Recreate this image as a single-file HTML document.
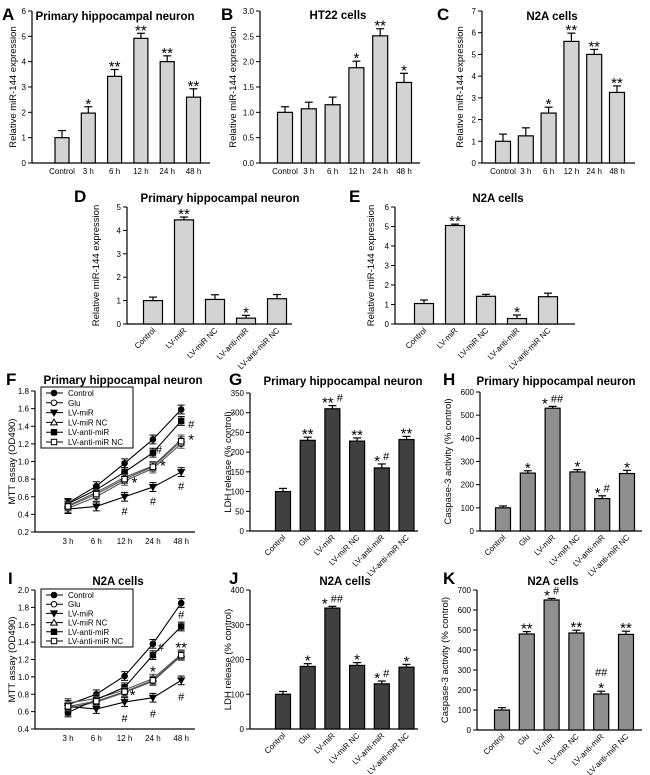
<!DOCTYPE html>
<html><head><meta charset="utf-8"><style>
html,body{margin:0;padding:0;background:#fff;}
svg{display:block;font-family:"Liberation Sans",Arial,sans-serif;}
.lt{font-weight:bold;font-size:17px;}
.tt{font-weight:bold;font-size:11.5px;}
.tk{font-size:8px;}
.yl{font-size:9.5px;}
.sg{font-size:11px;}
.st{font-size:15px;}
.lg{font-size:8px;}
</style></head><body>
<svg id="fig" width="650" height="775" viewBox="0 0 650 775">
<text class="lt" x="2" y="20">A</text>
<text class="lt" x="221" y="20">B</text>
<text class="lt" x="437" y="20">C</text>
<text class="lt" x="74" y="202">D</text>
<text class="lt" x="349" y="202">E</text>
<text class="lt" x="6" y="385">F</text>
<text class="lt" x="229" y="385">G</text>
<text class="lt" x="443" y="385">H</text>
<text class="lt" x="8" y="584">I</text>
<text class="lt" x="229" y="584">J</text>
<text class="lt" x="443" y="584">K</text>
<text class="tt" x="115" y="20" text-anchor="middle">Primary hippocampal neuron</text>
<text class="tt" x="338" y="19" text-anchor="middle">HT22 cells</text>
<text class="tt" x="552" y="20" text-anchor="middle">N2A cells</text>
<text class="tt" x="220" y="202" text-anchor="middle">Primary hippocampal neuron</text>
<text class="tt" x="498" y="202" text-anchor="middle">N2A cells</text>
<text class="tt" x="123" y="384" text-anchor="middle">Primary hippocampal neuron</text>
<text class="tt" x="343" y="385" text-anchor="middle">Primary hippocampal neuron</text>
<text class="tt" x="556" y="385" text-anchor="middle">Primary hippocampal neuron</text>
<text class="tt" x="118" y="585" text-anchor="middle">N2A cells</text>
<text class="tt" x="345" y="585" text-anchor="middle">N2A cells</text>
<text class="tt" x="553" y="585" text-anchor="middle">N2A cells</text>
</svg>
<script>
const timeCats=['Control','3 h','6 h','12 h','24 h','48 h'];
const aVals=[1,1.97,3.42,4.92,4.0,2.6];
const aErr=[0.28,0.25,0.27,0.2,0.23,0.33];
const aSig=['','*','**','**','**','**'];
const bVals=[1,1.07,1.15,1.88,2.51,1.59];
const bErr=[0.11,0.13,0.15,0.13,0.14,0.18];
const bSig=['','','','*','**','*'];
const cVals=[1,1.25,2.3,5.6,5.0,3.25];
const cErr=[0.33,0.37,0.27,0.38,0.23,0.3];
const cSig=['','','*','**','**','**'];
const grpCats=['Control','LV-miR','LV-miR NC','LV-anti-miR','LV-anti-miR NC'];
const dVals=[1,4.45,1.05,0.25,1.08];
const dErr=[0.15,0.12,0.2,0.12,0.18];
const dSig=['','**','','*',''];
const eVals=[1.05,5.05,1.42,0.28,1.4];
const eErr=[0.18,0.07,0.1,0.18,0.18];
const eSig=['','**','','*',''];
const treatCats=['Control','Glu','LV-miR','LV-miR NC','LV-anti-miR','LV-anti-miR NC'];
const gVals=[100,230,310,228,160,232];
const gErr=[8,8,8,8,10,8];
const gSig=['','**','** #','**','* #','**'];
const hVals=[100,250,530,255,140,248];
const hErr=[8,10,8,10,12,14];
const hSig=['','*','* ##','*','* #','*'];
const jVals=[100,180,348,183,130,178];
const jErr=[8,8,5,8,8,8];
const jSig=['','*','* ##','*','* #','*'];
const kVals=[100,480,650,485,180,478];
const kErr=[12,12,8,14,14,16];
const kSig=['','**','* #','**','*|##','**'];
const times=['3 h','6 h','12 h','24 h','48 h'];
const seriesNames=['Control','Glu','LV-miR','LV-miR NC','LV-anti-miR','LV-anti-miR NC'];
const fControl=[0.53,0.72,0.98,1.25,1.59];
const fGlu=[0.47,0.60,0.78,0.92,1.20];
const fLvMiR=[0.46,0.49,0.60,0.71,0.88];
const fLvMiRNC=[0.50,0.65,0.82,0.95,1.25];
const fAnti=[0.52,0.68,0.88,1.10,1.46];
const fAntiNC=[0.49,0.63,0.80,0.94,1.23];
const iControl=[0.68,0.80,1.01,1.38,1.85];
const iGlu=[0.64,0.71,0.82,0.95,1.24];
const iLvMiR=[0.66,0.63,0.71,0.76,0.96];
const iLvMiRNC=[0.70,0.75,0.85,0.98,1.26];
const iAnti=[0.59,0.74,0.88,1.25,1.58];
const iAntiNC=[0.66,0.72,0.83,0.96,1.25];
const lineErr=[0.05,0.05,0.05,0.05,0.05];
const fAnnot=[['#',2,2,0,14],['#',2,3,0,14],['#',2,4,0,14],['#',4,4,10,3],['*',3,4,10,-5],['*',4,3,10,8],['#',4,3,6,-3],['*',3,2,10,0]];
const iAnnot=[['#',2,2,0,16],['#',2,3,0,16],['#',2,4,0,16],['#',4,4,0,-12],['**',3,4,0,-12],['*',3,3,0,-12],['#',0,3,8,3],['*',3,2,8,0]];

const NS='http://www.w3.org/2000/svg';
const svg=document.getElementById('fig');
function mk(tag,attrs,parent,txt){const e=document.createElementNS(NS,tag);for(const k in attrs)e.setAttribute(k,attrs[k]);if(txt!==undefined)e.textContent=txt;(parent||svg).appendChild(e);return e;}

function sigText(g,x,y,s){
  // stars drawn larger and lowered, hashes normal
  const t=mk('text',{x:x,y:y,'text-anchor':'middle',class:'sg'},g);
  s.split(' ').forEach((part,i)=>{
    const isStar=part.indexOf('*')>=0;
    const ts=mk('tspan',{class:isStar?'st':'sg',dy:isStar?6:0},t,(i>0?' ':'')+part);
    if(isStar&&i<s.split(' ').length-1){}
  });
  // reset baseline shift for subsequent tspans
  const spans=t.querySelectorAll('tspan');
  let cur=0;
  spans.forEach(sp=>{const want=sp.getAttribute('class')==='st'?6:0;sp.setAttribute('dy',want-cur);cur=want;});
  return t;
}

function axes(g,c){
  const y=v=>c.yb-(v-c.min)/(c.max-c.min)*(c.yb-c.yt);
  const ya=mk('line',{x1:c.ax,y1:c.yt,x2:c.ax,y2:c.yb,stroke:'#000','stroke-width':1.2},g);
  
  
  const xa=mk('line',{x1:c.ax,y1:c.yb,x2:c.xe,y2:c.yb,stroke:'#000','stroke-width':1.2},g);
  
  
  for(let v=c.min;v<=c.max+1e-9;v+=c.step){
    const yy=y(v);
    mk('line',{x1:c.ax-4,y1:yy,x2:c.ax,y2:yy,stroke:'#000'},g);
    const t=mk('text',{x:c.ax-6,y:yy+3,'text-anchor':'end',class:'tk'},g,v.toFixed(c.dec||0));
    
    
  }
  const yl=mk('text',{class:'yl','text-anchor':'middle',transform:`translate(${c.ylx},${(c.yt+c.yb)/2}) rotate(-90)`},g,c.ylabel);
  
  
  return y;
}

function barChart(c,cats,vals,errs,sigs){
  const g=mk('g',{},svg);
  
  
  const y=axes(g,c);
  cats.forEach((cat,i)=>{
    const cx=c.x0+i*c.sp, top=y(vals[i]);
    const r=mk('rect',{x:cx-c.bw/2,y:top,width:c.bw,height:c.yb-top,fill:c.fill,stroke:'#000','stroke-width':1.2},g);
    
    
    const et=y(vals[i]+errs[i]);
    mk('line',{x1:cx,y1:top,x2:cx,y2:et,stroke:'#000','stroke-width':1.2},g);
    mk('line',{x1:cx-4,y1:et,x2:cx+4,y2:et,stroke:'#000','stroke-width':1.2},g);
    if(sigs[i]){
      const lines=sigs[i].split('|');
      lines.forEach((s,k)=>{
        const t=sigText(g,cx,et-4-k*11,s);
        
        
      });
    }
    let t;
    if(c.rot){t=mk('text',{class:'tk','text-anchor':'end',transform:`translate(${cx+3},${c.yb+7}) rotate(-45)`},g,cat);}
    else{t=mk('text',{class:'tk','text-anchor':'middle',x:cx,y:c.yb+11},g,cat);}
    
    
  });
}

function marker(g,k,x,y){
  const fill=(k%2===0)?'#000':'#fff';
  if(k<2) return mk('circle',{cx:x,cy:y,r:2.8,fill:fill,stroke:'#000'},g);
  if(k===2) return mk('polygon',{points:`${x-3.3},${y-2.5} ${x+3.3},${y-2.5} ${x},${y+3.3}`,fill:'#000',stroke:'#000'},g);
  if(k===3) return mk('polygon',{points:`${x-3.3},${y+2.5} ${x+3.3},${y+2.5} ${x},${y-3.3}`,fill:'#fff',stroke:'#000'},g);
  return mk('rect',{x:x-2.7,y:y-2.7,width:5.4,height:5.4,fill:fill,stroke:'#000'},g);
}

function lineChart(c,series,annots){
  const g=mk('g',{},svg);
  
  
  const y=axes(g,c);
  const x=i=>c.x0+i*c.sp;
  times.forEach((t,i)=>{
    const tl=mk('text',{class:'tk','text-anchor':'middle',x:x(i),y:c.yb+12},g,t);
    
    
  });
  series.forEach((s,k)=>{
    const col=(k===1||k===3||k===5)?'#555':'#000';
    const p=mk('polyline',{points:s.map((v,i)=>x(i)+','+y(v)).join(' '),fill:'none',stroke:col,'stroke-width':1.1},g);
    
    
    s.forEach((v,i)=>{
      const a=y(v+lineErr[i]),b=y(v-lineErr[i]);
      mk('line',{x1:x(i),y1:a,x2:x(i),y2:b,stroke:col},g);
      mk('line',{x1:x(i)-3.5,y1:a,x2:x(i)+3.5,y2:a,stroke:col},g);
      mk('line',{x1:x(i)-3.5,y1:b,x2:x(i)+3.5,y2:b,stroke:col},g);
      const m=marker(g,k,x(i),y(v));
      
      
    });
  });
  annots.forEach(a=>{
    const t=sigText(g,x(a[2])+a[3],y(series[a[1]][a[2]])+a[4]+4,a[0]);
    
    
  });
  const lg=mk('g',{},g);
  
  
  mk('rect',{x:c.lx,y:c.ly,width:92,height:c.lh,fill:'#fff',stroke:'#000'},lg);
  seriesNames.forEach((n,k)=>{
    const yy=c.ly+6+k*(c.lh-12)/5;
    mk('line',{x1:c.lx+5,y1:yy,x2:c.lx+22,y2:yy,stroke:'#000'},lg);
    marker(lg,k,c.lx+13,yy);
    const t=mk('text',{x:c.lx+27,y:yy+3,class:'lg'},lg,n);
    
    
  });
}

const ylm='Relative miR-144 expression';
barChart({name:'panel-a-chart',ax:32,yt:11,yb:163,xe:210,min:0,max:6,step:1,x0:62,sp:26.3,bw:14,fill:'#d3d3d3',ylx:16,ylabel:ylm},timeCats,aVals,aErr,aSig);
barChart({name:'panel-b-chart',ax:260,yt:11,yb:163,xe:420,min:0,max:3,step:0.5,dec:1,x0:285,sp:23.8,bw:15,fill:'#d3d3d3',ylx:236,ylabel:ylm},timeCats,bVals,bErr,bSig);
barChart({name:'panel-c-chart',ax:482,yt:11,yb:163,xe:635,min:0,max:7,step:1,x0:503,sp:22.8,bw:15,fill:'#d3d3d3',ylx:463,ylabel:ylm},timeCats,cVals,cErr,cSig);
barChart({name:'panel-d-chart',ax:127,yt:207,yb:324,xe:292,min:0,max:5,step:1,x0:153,sp:31,bw:19,fill:'#d3d3d3',rot:true,ylx:99,ylabel:ylm},grpCats,dVals,dErr,dSig);
barChart({name:'panel-e-chart',ax:395,yt:207,yb:324,xe:575,min:0,max:6,step:1,x0:424,sp:31,bw:19,fill:'#d3d3d3',rot:true,ylx:374,ylabel:ylm},grpCats,eVals,eErr,eSig);
barChart({name:'panel-g-chart',ax:250,yt:393,yb:531,xe:418,min:0,max:350,step:50,x0:283,sp:24.7,bw:15,fill:'#404040',rot:true,ylx:231,ylabel:'LDH release (% control)'},treatCats,gVals,gErr,gSig);
barChart({name:'panel-h-chart',ax:480,yt:392,yb:531,xe:642,min:0,max:600,step:100,x0:503,sp:24.8,bw:15,fill:'#8f8f8f',rot:true,ylx:451,ylabel:'Caspase-3 activity (% control)'},treatCats,hVals,hErr,hSig);
barChart({name:'panel-j-chart',ax:250,yt:590,yb:729,xe:418,min:0,max:400,step:100,x0:283,sp:24.7,bw:15,fill:'#404040',rot:true,ylx:231,ylabel:'LDH release (% control)'},treatCats,jVals,jErr,jSig);
barChart({name:'panel-k-chart',ax:477,yt:590,yb:730,xe:642,min:0,max:700,step:100,x0:502,sp:24.8,bw:15,fill:'#8f8f8f',rot:true,ylx:448,ylabel:'Caspase-3 activity (% control)'},treatCats,kVals,kErr,kSig);
lineChart({name:'panel-f-chart',ax:35,yt:391,yb:532,xe:195,min:0.2,max:1.8,step:0.2,dec:1,x0:68,sp:28.3,ylx:15,ylabel:'MTT assay (OD490)',lx:41,ly:387,lh:61},[fControl,fGlu,fLvMiR,fLvMiRNC,fAnti,fAntiNC],fAnnot);
lineChart({name:'panel-i-chart',ax:35,yt:590,yb:729,xe:195,min:0.4,max:2.0,step:0.2,dec:1,x0:68,sp:28.3,ylx:15,ylabel:'MTT assay (OD490)',lx:41,ly:589,lh:58},[iControl,iGlu,iLvMiR,iLvMiRNC,iAnti,iAntiNC],iAnnot);
</script>
</body></html>
